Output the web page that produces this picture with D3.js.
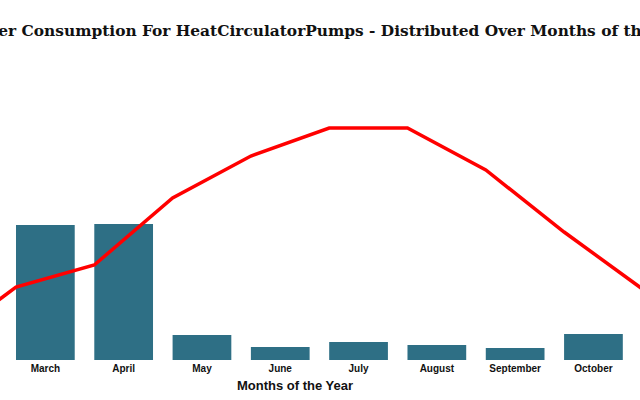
<!DOCTYPE html>
<html>
<head>
<meta charset="utf-8">
<script src="https://cdn.jsdelivr.net/npm/d3@7"></script>
<style>
  body { margin: 0; background: #fff; overflow: hidden; }
  svg { display: block; }
</style>
</head>
<body>
<div id="chart"></div>
<script>
// Data (Jan, Feb, Nov, Dec fall outside the visible window)
const months = ["January", "February", "March", "April", "May", "June",
  "July", "August", "September", "October", "November", "December"];
const consumption = [150, 140, 135, 136, 25, 13, 18, 15, 12, 26, 70, 130];
const trend = [5, 14, 73, 95, 162, 204, 232, 232, 190, 128, 71, 20];

const width = 640;
const height = 400;

const svg = d3.select("#chart")
  .append("svg")
  .attr("width", width)
  .attr("height", height);

// the plot is wider than the window, centered on it
const x = d3.scaleBand()
  .domain(months)
  .range([-140.6, 779.4])
  .paddingInner(0.25)
  .paddingOuter(0);

const y = d3.scaleLinear()
  .domain([0, 250])
  .range([360, 110]);

// bars
svg.append("g")
  .selectAll("rect")
  .data(months)
  .join("rect")
  .attr("x", d => x(d))
  .attr("y", (d, i) => y(consumption[i]))
  .attr("width", x.bandwidth())
  .attr("height", (d, i) => y(0) - y(consumption[i]))
  .attr("fill", "#2e6f85");

// line, anchored at the left edge of each band
const line = d3.line()
  .x(d => x(d.month))
  .y(d => y(d.value));

svg.append("path")
  .datum(months.map((m, i) => ({ month: m, value: trend[i] })))
  .attr("fill", "none")
  .attr("stroke", "#ff0000")
  .attr("stroke-width", 3.5)
  .attr("d", line);

// x axis (labels only)
const xAxis = svg.append("g")
  .attr("transform", `translate(0,${y(0)})`)
  .call(d3.axisBottom(x).tickSize(0).tickPadding(5));

xAxis.select(".domain").remove();
xAxis.selectAll("text")
  .attr("font-family", "'Liberation Sans', Arial, sans-serif")
  .attr("font-weight", "bold")
  .attr("font-size", 10)
  .attr("fill", "#111");

svg.append("text")
  .attr("x", 295)
  .attr("y", 390)
  .attr("text-anchor", "middle")
  .attr("font-family", "'Liberation Sans', Arial, sans-serif")
  .attr("font-weight", "bold")
  .attr("font-size", 13)
  .attr("fill", "#111")
  .text("Months of the Year");

// title, clipped by the window edges
svg.append("text")
  .attr("x", 329)
  .attr("y", 36)
  .attr("text-anchor", "middle")
  .attr("font-family", "'DejaVu Serif', Georgia, serif")
  .attr("font-weight", "bold")
  .attr("font-size", 15.4)
  .attr("fill", "#111")
  .text("Power Consumption For HeatCirculatorPumps - Distributed Over Months of the Year");
</script>
</body>
</html>
